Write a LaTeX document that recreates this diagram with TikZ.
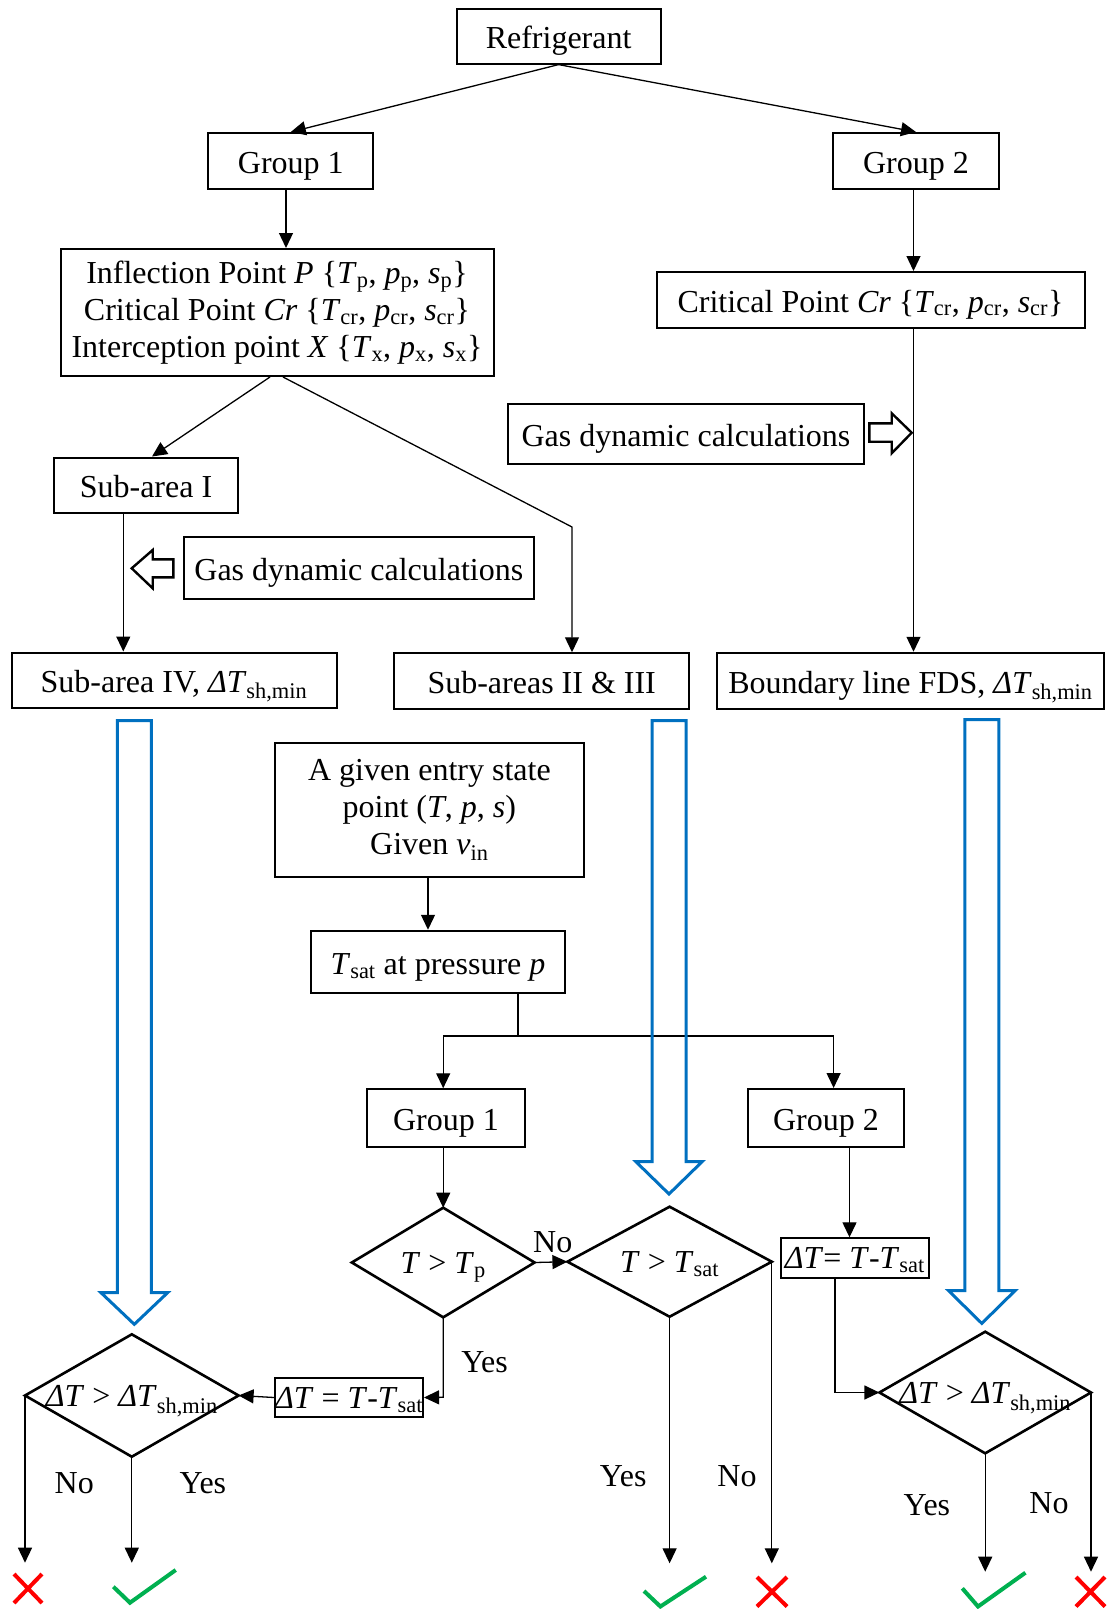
\documentclass[tikz,border=0pt]{standalone}
\usepackage{fontspec}
\setmainfont{Liberation Serif}
\usetikzlibrary{arrows.meta,shapes.geometric,calc}

\newcommand\lowr[1]{\textsubscript{#1}}
\newcommand\itx[1]{\textit{#1}}

\definecolor{flowblue}{RGB}{0,112,192}
\definecolor{okgreen}{RGB}{0,176,80}

\begin{document}
\begin{tikzpicture}[x=1pt,y=-1pt,
  every node/.style={font=\fontsize{32}{37}\selectfont},
  mbox/.style={draw, line width=2pt, inner sep=0pt, align=center},
  box/.style={mbox, text height=24pt, text depth=0pt},
  cond/.style={inner sep=0pt, outer sep=0pt, text height=22pt, text depth=0pt},
  condline/.style={line width=2.6pt, line join=miter},
  conn/.style={line width=1.3pt},
  arr/.style={conn, -{Triangle[length=15pt,width=14pt]}},
  hollow/.style={draw, line width=2.4pt, line join=miter},
  bluearrow/.style={draw=flowblue, line width=3pt, line join=miter},
  nomark/.style={draw=red, line width=4pt},
  okmark/.style={draw=okgreen, line width=4pt},
  lbl/.style={inner sep=0pt}]

\useasboundingbox (0,0) rectangle (1109,1609);

% ---------- upper part: classification ----------
\node[box, minimum width=204pt, minimum height=54.4pt] (ref) at (558.6,36.4) {Refrigerant};
\node[box, minimum width=165pt, minimum height=56pt] (g1a) at (290.8,161) {Group 1};
\node[box, minimum width=166pt, minimum height=56pt] (g2a) at (916,161) {Group 2};

\node[mbox, minimum width=433pt, minimum height=127pt] (infl) at (277,312.5)
  {Inflection Point \itx{P} \{\itx{T}\lowr{p}, \itx{p}\lowr{p}, \itx{s}\lowr{p}\}\\
   Critical Point \itx{Cr} \{\itx{T}\lowr{cr}, \itx{p}\lowr{cr}, \itx{s}\lowr{cr}\}\\
   Interception point \itx{X} \{\itx{T}\lowr{x}, \itx{p}\lowr{x}, \itx{s}\lowr{x}\}};
\node[box, minimum width=428pt, minimum height=56pt] (crit) at (870.5,300)
  {Critical Point \itx{Cr} \{\itx{T}\lowr{cr}, \itx{p}\lowr{cr}, \itx{s}\lowr{cr}\}};

\node[box, minimum width=356pt, minimum height=60pt] (gasR) at (686,434) {Gas dynamic calculations};
\node[box, minimum width=184pt, minimum height=55pt] (subI) at (146,485) {Sub-area I};
\node[box, minimum width=349.5pt, minimum height=62.5pt] (gasL) at (358.8,568) {Gas dynamic calculations};

\node[box, minimum width=325pt, minimum height=55pt] (subIV) at (174,680)
  {Sub-area IV, \itx{ΔT}\lowr{sh,min}};
\node[box, minimum width=295pt, minimum height=55.5pt] (subII) at (541.7,681)
  {Sub-areas II \& III};
\node[box, minimum width=387pt, minimum height=56.5pt] (bnd) at (910.5,681)
  {Boundary line FDS, \itx{ΔT}\lowr{sh,min}};

% column positions of the vertical connectors
\coordinate (xa) at (286,0);
\coordinate (xb) at (913.5,0);
\coordinate (xc) at (123.3,0);
\coordinate (xd) at (270,0);
\coordinate (xe) at (152,0);
\coordinate (xf) at (283,0);
\coordinate (kink) at (572,527);

\draw[arr] (ref.south) -- (g1a.north);
\draw[arr] (ref.south) -- (g2a.north);
\draw[arr] (g1a.south -| xa) -- (infl.north -| xa);
\draw[arr] (g2a.south -| xb) -- (crit.north -| xb);
\draw[arr] (crit.south -| xb) -- (bnd.north -| xb);
\draw[arr] (infl.south -| xd) -- (subI.north -| xe);
\draw[arr] (infl.south -| xf) -- (kink) -- (subII.north -| kink);
\draw[arr] (subI.south -| xc) -- (subIV.north -| xc);

% hollow block arrows beside the calculation boxes
\draw[hollow] (869.3,423.3) -- (891.7,423.3) -- (891.7,413.3) -- (911.7,432.7)
  -- (891.7,453.3) -- (891.7,441.7) -- (869.3,441.7) -- cycle;
\draw[hollow] (173.3,559.3) -- (152.7,559.3) -- (152.7,550) -- (131.7,568.3)
  -- (152.7,588.3) -- (152.7,577.3) -- (173.3,577.3) -- cycle;

% ---------- lower part: state point check ----------
\node[mbox, minimum width=309pt, minimum height=134pt] (entry) at (429.4,810)
  {A given entry state\\ point (\itx{T}, \itx{p}, \itx{s})\\ Given \itx{v}\lowr{in}};
\node[box, minimum width=254pt, minimum height=62.5pt] (tsat) at (438,962)
  {\itx{T}\lowr{sat} at pressure \itx{p}};
\node[box, minimum width=158pt, minimum height=57.5pt] (g1b) at (446,1118) {Group 1};
\node[box, minimum width=156pt, minimum height=58pt] (g2b) at (826,1118) {Group 2};

\node[cond, minimum width=182.8pt, minimum height=109.6pt] (d1) at (443.2,1262.5)
  {\itx{T} > \itx{T}\lowr{p}};
\node[cond, minimum width=204.4pt, minimum height=110pt] (d2) at (669.6,1261.7)
  {\itx{T} > \itx{T}\lowr{sat}};
\node[box, text height=21pt, minimum width=146.8pt, minimum height=39.6pt] (dtL) at (349.1,1397.5)
  {\itx{ΔT} = \itx{T}-\itx{T}\lowr{sat}};
\node[cond, minimum width=213.6pt, minimum height=122.4pt] (d3) at (131.8,1395.5)
  {\itx{ΔT} > \itx{ΔT}\lowr{sh,min}};
\node[box, text height=21pt, minimum width=147.8pt, minimum height=40pt] (dtR) at (854.8,1258.3)
  {\itx{ΔT}= \itx{T}-\itx{T}\lowr{sat}};
\node[cond, minimum width=211.6pt, minimum height=121.6pt] (d4) at (985.2,1392.5)
  {\itx{ΔT} > \itx{ΔT}\lowr{sh,min}};

% decision outlines
\foreach \d in {d1,d2,d3,d4}
  \draw[condline] (\d.north) -- (\d.east) -- (\d.south) -- (\d.west) -- cycle;

\coordinate (xg) at (428,0);
\coordinate (split) at (518,1036);
\coordinate (xh) at (443.2,0);
\coordinate (xi) at (833.6,0);
\coordinate (xj) at (849.5,0);
\coordinate (xk) at (834.9,0);
\coordinate (yend1) at (0,1562.7);
\coordinate (yend2) at (0,1563.3);
\coordinate (yend3) at (0,1571.7);
\coordinate (ybend) at (0,1397.3);

\draw[arr] (entry.south -| xg) -- (tsat.north -| xg);
\draw[conn] (tsat.south -| split) -- (split);
\draw[arr] (split) -- (split -| xh) -- (g1b.north -| xh);
\draw[arr] (split) -- (split -| xi) -- (g2b.north -| xi);
\draw[arr] (g1b.south -| d1) -- (d1.north);
\draw[arr] (d1.east) -- (d2.west);
\draw[arr] (d1.south) -- (d1.south |- ybend) -- (dtL.east);
\draw[arr] (dtL.west) -- (d3.east);
\draw[arr] (d3.west) -- (d3.west |- yend1);
\draw[arr] (d3.south) -- (d3.south |- yend1);
\draw[arr] (d2.south) -- (d2.south |- yend2);
\draw[arr] (d2.east) -- (d2.east |- yend2);
\draw[arr] (g2b.south -| xj) -- (dtR.north -| xj);
\draw[arr] (dtR.south -| xk) -- (d4.west -| xk) -- (d4.west);
\draw[arr] (d4.south) -- (d4.south |- yend3);
\draw[arr] (d4.east) -- (d4.east |- yend3);

% branch labels
\node[lbl] (noA)  at (552.7,1241.7) {No};
\node[lbl] (yesA) at (484.6,1361.7) {Yes};
\node[lbl] (noB)  at (74.3,1483.3) {No};
\node[lbl] (yesB) at (202.9,1483.3) {Yes};
\node[lbl] (yesC) at (623.2,1476) {Yes};
\node[lbl] (noC)  at (737,1476) {No};
\node[lbl] (yesD) at (926.9,1505) {Yes};
\node[lbl] (noD)  at (1049,1502.7) {No};

% blue block arrows carrying the sub-area limits down
\draw[bluearrow] (117.3,720.5) -- (151.3,720.5) -- (151.3,1292.7) -- (167.6,1292.7)
  -- (134.3,1324.3) -- (101,1292.7) -- (117.3,1292.7) -- cycle;
\draw[bluearrow] (652,720.5) -- (686,720.5) -- (686,1161.5) -- (702.3,1161.5)
  -- (669,1194) -- (635.7,1161.5) -- (652,1161.5) -- cycle;
\draw[bluearrow] (964.8,719.5) -- (998.8,719.5) -- (998.8,1290.6) -- (1015.1,1290.6)
  -- (981.8,1323.4) -- (948.5,1290.6) -- (964.8,1290.6) -- cycle;

% outcome marks
\draw[nomark] (14,1574) -- (42,1603) (14,1603) -- (42,1574);
\draw[okmark] (113.3,1586.7) -- (130,1602.7) -- (175.7,1570);
\draw[okmark] (644,1591) -- (660.4,1606.5) -- (706,1576.7);
\draw[nomark] (757,1577) -- (787,1606.5) (757,1606.5) -- (787,1577);
\draw[okmark] (962.3,1588.3) -- (978,1606.5) -- (1025.4,1572.7);
\draw[nomark] (1076,1577) -- (1105,1606.5) (1076,1606.5) -- (1105,1577);
\end{tikzpicture}
\end{document}
